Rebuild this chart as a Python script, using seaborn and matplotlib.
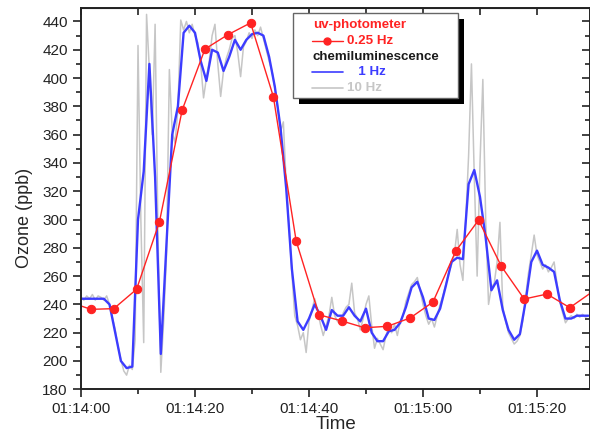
import matplotlib
matplotlib.use("Agg")
import numpy as np
import pandas as pd
import seaborn as sns
from matplotlib import pyplot as plt
from matplotlib.lines import Line2D
from matplotlib.patches import Rectangle
from matplotlib.ticker import FuncFormatter, MultipleLocator

# time in seconds after 01:14:00
uv_time = [-2.25, 1.75, 5.75, 9.75, 13.75, 17.75, 21.75, 25.75, 29.75, 33.75, 37.75, 41.75,
           45.75, 49.75, 53.75, 57.75, 61.75, 65.75, 69.75, 73.75, 77.75, 81.75, 85.75, 89.75]
uv_ozone = [242, 236.5, 237, 250.7, 298.2, 377.4, 420.5, 430.6, 439, 386.8, 284.8, 232.7,
            228.3, 223.5, 224.5, 230.4, 241.7, 277.7, 299.6, 266.9, 243.8, 247.3, 237.7, 249]

# chemiluminescence, 1 Hz (one value per second from 0 s)
cl1_time = np.arange(0, 90, 1.0)
cl1_ozone = [244, 244, 244, 244, 244, 240, 220, 200, 195, 196,
             300, 334, 410, 330, 205, 283, 360, 380, 432, 437,
             432, 412, 398, 420, 418, 405, 415, 427, 420, 427,
             431, 432, 430, 415, 394, 365, 322, 265, 228, 222,
             230, 240, 232, 222, 236, 232, 232, 238, 232, 228,
             237, 220, 214, 214, 221, 222, 227, 238, 252, 256,
             245, 230, 229, 237, 253, 270, 273, 272, 325, 335,
             316, 287, 250, 257, 236, 222, 215, 219, 242, 270,
             278, 268, 266, 263, 243, 230, 230, 232, 232, 232]

cl10_time = np.arange(0, 90, 0.5)
cl10_ozone = [245, 243, 246, 244, 247, 243, 246, 245, 243, 246,
              240, 231, 222, 210, 201, 193, 190, 197, 194, 215,
              423, 300, 213, 445, 405, 360, 438, 290, 192, 228,
              275, 406, 362, 354, 378, 441, 434, 440, 432, 438,
              430, 425, 410, 386, 400, 412, 430, 438, 410, 387,
              405, 414, 420, 428, 430, 418, 401, 422, 426, 432,
              428, 434, 430, 436, 428, 420, 412, 405, 393, 380,
              362, 369, 325, 295, 262, 232, 225, 215, 220, 206,
              228, 236, 244, 236, 226, 218, 225, 232, 245, 232,
              228, 226, 234, 238, 240, 255, 234, 230, 222, 230,
              240, 246, 225, 209, 216, 212, 208, 218, 224, 220,
              226, 218, 228, 232, 242, 248, 254, 256, 259, 250,
              240, 232, 226, 230, 224, 232, 240, 246, 254, 262,
              268, 275, 293, 268, 257, 300, 345, 410, 330, 260,
              340, 399, 300, 240, 252, 255, 270, 298, 238, 228,
              220, 216, 212, 214, 218, 228, 245, 262, 275, 289,
              275, 270, 265, 268, 263, 266, 270, 255, 242, 234,
              227, 230, 232, 230, 233, 231, 233, 231, 232, 232]

RED = "#ff2323"
BLUE = "#3c3cff"
GREY = "#c6c6c6"

sns.set_style("ticks")
plt.rcParams["font.family"] = ["Liberation Sans", "DejaVu Sans"]

fig = plt.figure(figsize=(5.9, 4.37), dpi=100)
ax = fig.add_axes([0.1373, 0.1092, 0.8627, 0.8718])

sns.lineplot(x=cl10_time, y=cl10_ozone, ax=ax, color=GREY, linewidth=1.1, estimator=None)
sns.lineplot(x=cl1_time, y=cl1_ozone, ax=ax, color=BLUE, linewidth=1.7, estimator=None)
sns.lineplot(x=uv_time, y=uv_ozone, ax=ax, color=RED, linewidth=1.0, marker="o",
             markersize=6, markeredgecolor=RED, estimator=None)

ax.set_xlim(0, 89.3)
ax.set_ylim(180, 449.3)
ax.xaxis.set_major_locator(MultipleLocator(20))
ax.xaxis.set_minor_locator(MultipleLocator(10))
ax.yaxis.set_major_locator(MultipleLocator(20))
ax.yaxis.set_minor_locator(MultipleLocator(10))


def clock(sec, pos):
    total = 14 * 60 + int(round(sec))
    return f"01:{total // 60:02d}:{total % 60:02d}"


ax.xaxis.set_major_formatter(FuncFormatter(clock))
ax.tick_params(which="major", direction="out", length=6, width=1.2, labelsize=11, colors="#222222")
ax.tick_params(which="minor", direction="out", length=3.5, width=1.2, colors="#222222")

top = ax.secondary_xaxis("top")
top.xaxis.set_major_locator(MultipleLocator(20))
top.xaxis.set_minor_locator(MultipleLocator(10))
top.tick_params(which="both", direction="in", labeltop=False, length=5, width=1.2, colors="#222222")
right = ax.secondary_yaxis("right")
right.yaxis.set_major_locator(MultipleLocator(20))
right.yaxis.set_minor_locator(MultipleLocator(10))
right.tick_params(which="major", direction="in", labelright=False, length=6, width=1.2, colors="#222222")
right.tick_params(which="minor", direction="in", length=3.5, width=1.2, colors="#222222")

for sp in ax.spines.values():
    sp.set_visible(True)
    sp.set_linewidth(1.4)
    sp.set_color("#222222")

ax.set_xlabel("Time", fontsize=13.5, labelpad=0)
ax.set_ylabel("Ozone (ppb)", fontsize=13)
ax.yaxis.set_label_coords(-0.095, 0.45)

# legend box with a solid drop shadow, as in the original
ax.add_patch(Rectangle((0.4283, 0.7489), 0.3242, 0.2239, transform=ax.transAxes,
                       facecolor="black", edgecolor="none", zorder=5, clip_on=False))
ax.add_patch(Rectangle((0.4165, 0.7646), 0.3242, 0.2239, transform=ax.transAxes,
                       facecolor="white", edgecolor="#666666", linewidth=1, zorder=6, clip_on=False))

rows = [0.9562, 0.9150, 0.8730, 0.8320, 0.7900]
hx0, hx1, tx = 0.4532, 0.5147, 0.5226
txt = dict(transform=ax.transAxes, va="center", ha="left", fontsize=9.6, fontweight="bold", zorder=7)
ax.text(0.4552, rows[0], "uv-photometer", color=RED, **txt)
ax.add_line(Line2D([hx0, (hx0 + hx1) / 2, hx1], [rows[1]] * 3, transform=ax.transAxes, color=RED,
                   linewidth=1, marker="o", markersize=5, markevery=[1], zorder=7))
ax.text(tx, rows[1], "0.25 Hz", color=RED, **txt)
ax.text(0.4552, rows[2], "chemiluminescence", color="#1a1a1a", **txt)
ax.add_line(Line2D([hx0, hx1], [rows[3]] * 2, transform=ax.transAxes, color=BLUE, linewidth=1.2, zorder=7))
ax.text(tx, rows[3], "   1 Hz", color=BLUE, **txt)
ax.add_line(Line2D([hx0, hx1], [rows[4]] * 2, transform=ax.transAxes, color=GREY, linewidth=1.2, zorder=7))
ax.text(tx, rows[4], "10 Hz", color=GREY, **txt)

fig.savefig("out.png", dpi=100)
